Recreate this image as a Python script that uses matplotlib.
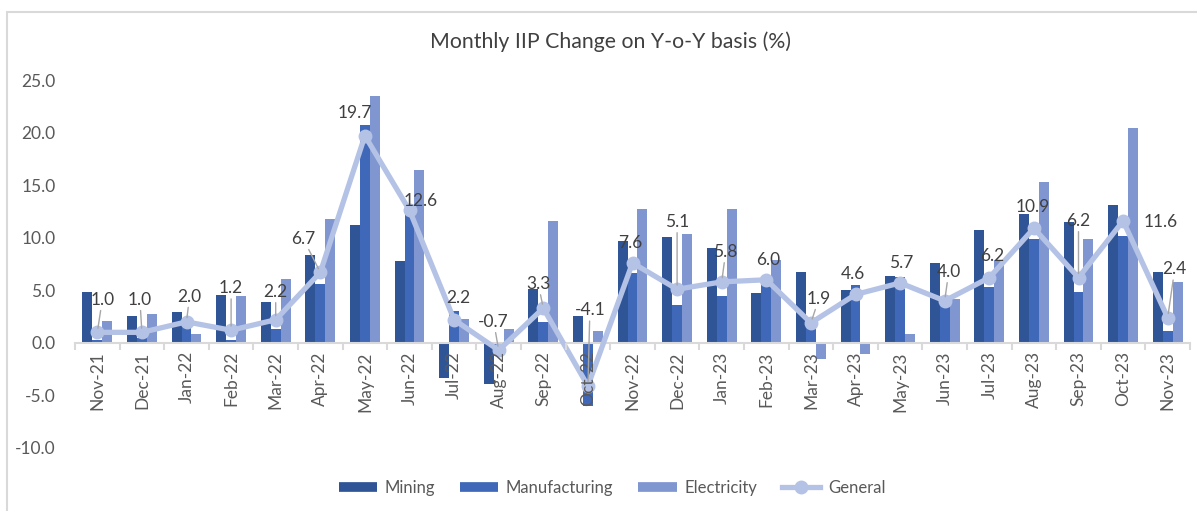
import numpy as np
import matplotlib
matplotlib.use('Agg')
import matplotlib.pyplot as plt
from matplotlib.lines import Line2D
from matplotlib.patches import Rectangle

plt.rcParams['font.family'] = ['Lato', 'DejaVu Sans']

# data
months = ['Nov-21', 'Dec-21', 'Jan-22', 'Feb-22', 'Mar-22', 'Apr-22', 'May-22',
          'Jun-22', 'Jul-22', 'Aug-22', 'Sep-22', 'Oct-22', 'Nov-22', 'Dec-22',
          'Jan-23', 'Feb-23', 'Mar-23', 'Apr-23', 'May-23', 'Jun-23', 'Jul-23',
          'Aug-23', 'Sep-23', 'Oct-23', 'Nov-23']
mining = [4.85, 2.57, 2.95, 4.56, 3.9, 8.37, 11.2, 7.8, -3.33, -3.96, 5.16, 2.57,
          9.66, 10.04, 9.03, 4.75, 6.75, 5.04, 6.37, 7.6, 10.74, 12.23, 11.47,
          13.09, 6.75]
manufacturing = [0.3, 0.5, 1.6, 0.3, 1.36, 5.6, 20.7, 12.3, 3.07, -0.5, 2.0, -6.0,
                 6.65, 3.6, 4.44, 5.7, 1.6, 5.48, 6.24, 3.8, 5.3, 9.9, 4.85,
                 10.14, 1.14]
electricity = [2.1, 2.76, 0.86, 4.47, 6.08, 11.76, 23.5, 16.45, 2.31, 1.36, 11.6,
               1.14, 12.74, 10.36, 12.74, 7.9, -1.58, -1.1, 0.86, 4.18, 7.9, 15.27,
               9.85, 20.4, 5.8]
general = [1.0, 1.0, 2.0, 1.2, 2.2, 6.7, 19.7, 12.6, 2.2, -0.7, 3.3, -4.1, 7.6, 5.1,
           5.8, 6.0, 1.9, 4.6, 5.7, 4.0, 6.2, 10.9, 6.2, 11.6, 2.4]

# data label placement (pixel shift in x, value height in y) and leader lines
label_dx = [5, -2, 3, 0, 0, -17, -10, 11, 4, -5, -5, 2, -2, 0, 4, 2, 8, -3, 1, 4,
            3, -1, 0, 38, 7]
label_y = [4.1, 4.1, 4.4, 5.2, 4.85, 9.9, 21.9, 13.5, 4.3, 2.0, 5.6, 3.1, 9.5,
           11.5, 8.65, 7.9, 4.2, 6.55, 7.6, 6.75, 8.3, 12.9, 11.6, 11.5, 7.0]
leader = [1, 1, 1, 1, 1, 1, 0, 0, 0, 1, 1, 1, 0, 1, 1, 0, 1, 0, 0, 1, 0, 0, 1, 0, 1]

c_min = '#2F5597'
c_man = '#3F68B8'
c_ele = '#7F96D1'
c_gen = '#B4C2E6'
txt = '#404040'

fig = plt.figure(figsize=(11.97, 5.11), dpi=100)
ax = fig.add_axes([75 / 1197, 1 - 448 / 511, 1115 / 1197, 368 / 511])

x = np.arange(len(months))
w = 0.224
ax.bar(x - w, mining, w, color=c_min, label='Mining', zorder=2)
ax.bar(x, manufacturing, w, color=c_man, label='Manufacturing', zorder=2)
ax.bar(x + w, electricity, w, color=c_ele, label='Electricity', zorder=2)
ax.plot(x, general, color=c_gen, lw=3.8, marker='o', ms=9, zorder=4,
        label='General')

px = 1 / 44.6
for i, v in enumerate(general):
    ap = dict(arrowstyle='-', color='#A6A6A6', lw=1.0, shrinkA=0, shrinkB=3) if leader[i] else None
    ax.annotate(f'{v:.1f}', xy=(i, v), xytext=(i + label_dx[i] * px, label_y[i]),
                ha='center', va='center', fontsize=12.5, color=txt,
                arrowprops=ap, zorder=5)

ax.set_xlim(-0.5, len(months) - 0.5)
ax.set_ylim(-10, 25)
ax.set_yticks(np.arange(-10, 26, 5))
ax.set_yticklabels([f'{t:.1f}' for t in np.arange(-10, 26, 5)])

for s in ['top', 'right', 'left']:
    ax.spines[s].set_visible(False)
ax.spines['bottom'].set_position(('data', 0))
ax.spines['bottom'].set_color('#D9D9D9')
ax.spines['bottom'].set_linewidth(1.5)
ax.spines['bottom'].set_zorder(3)

ax.set_xticks(x)
ax.set_xticklabels(months, rotation=90)
ax.set_xticks(np.arange(-0.5, len(months), 1), minor=True)
ax.tick_params(axis='x', which='major', length=0, pad=6, labelsize=12.5,
               labelcolor='#595959')
ax.tick_params(axis='x', which='minor', length=5, width=1.5, color='#D9D9D9')
ax.tick_params(axis='y', length=0, pad=14, labelsize=12.5, labelcolor='#595959')
ax.xaxis.set_zorder(4.5)

fig.text(610 / 1197, 1 - 42 / 511, 'Monthly IIP Change on Y-o-Y basis (%)',
         ha='center', va='center', fontsize=15.3, color=txt)

handles = [Line2D([], [], color=c_min, lw=7, solid_capstyle='butt'),
           Line2D([], [], color=c_man, lw=7, solid_capstyle='butt'),
           Line2D([], [], color=c_ele, lw=7, solid_capstyle='butt'),
           Line2D([], [], color=c_gen, lw=3.8, marker='o', ms=9)]
leg = fig.legend(handles, ['Mining', 'Manufacturing', 'Electricity', 'General'],
                 loc='center', bbox_to_anchor=(612 / 1197, 1 - 488 / 511), ncol=4,
                 frameon=False, fontsize=12, handlelength=2.3, handletextpad=0.45,
                 columnspacing=1.5)
for t in leg.get_texts():
    t.set_color('#595959')

# outer chart border
fig.patches.append(Rectangle((7 / 1197, -0.1), 1.2, 1.1 - 12 / 511,
                             transform=fig.transFigure, fill=False,
                             edgecolor='#D9D9D9', lw=1.5))

fig.savefig('out.png', dpi=100)
